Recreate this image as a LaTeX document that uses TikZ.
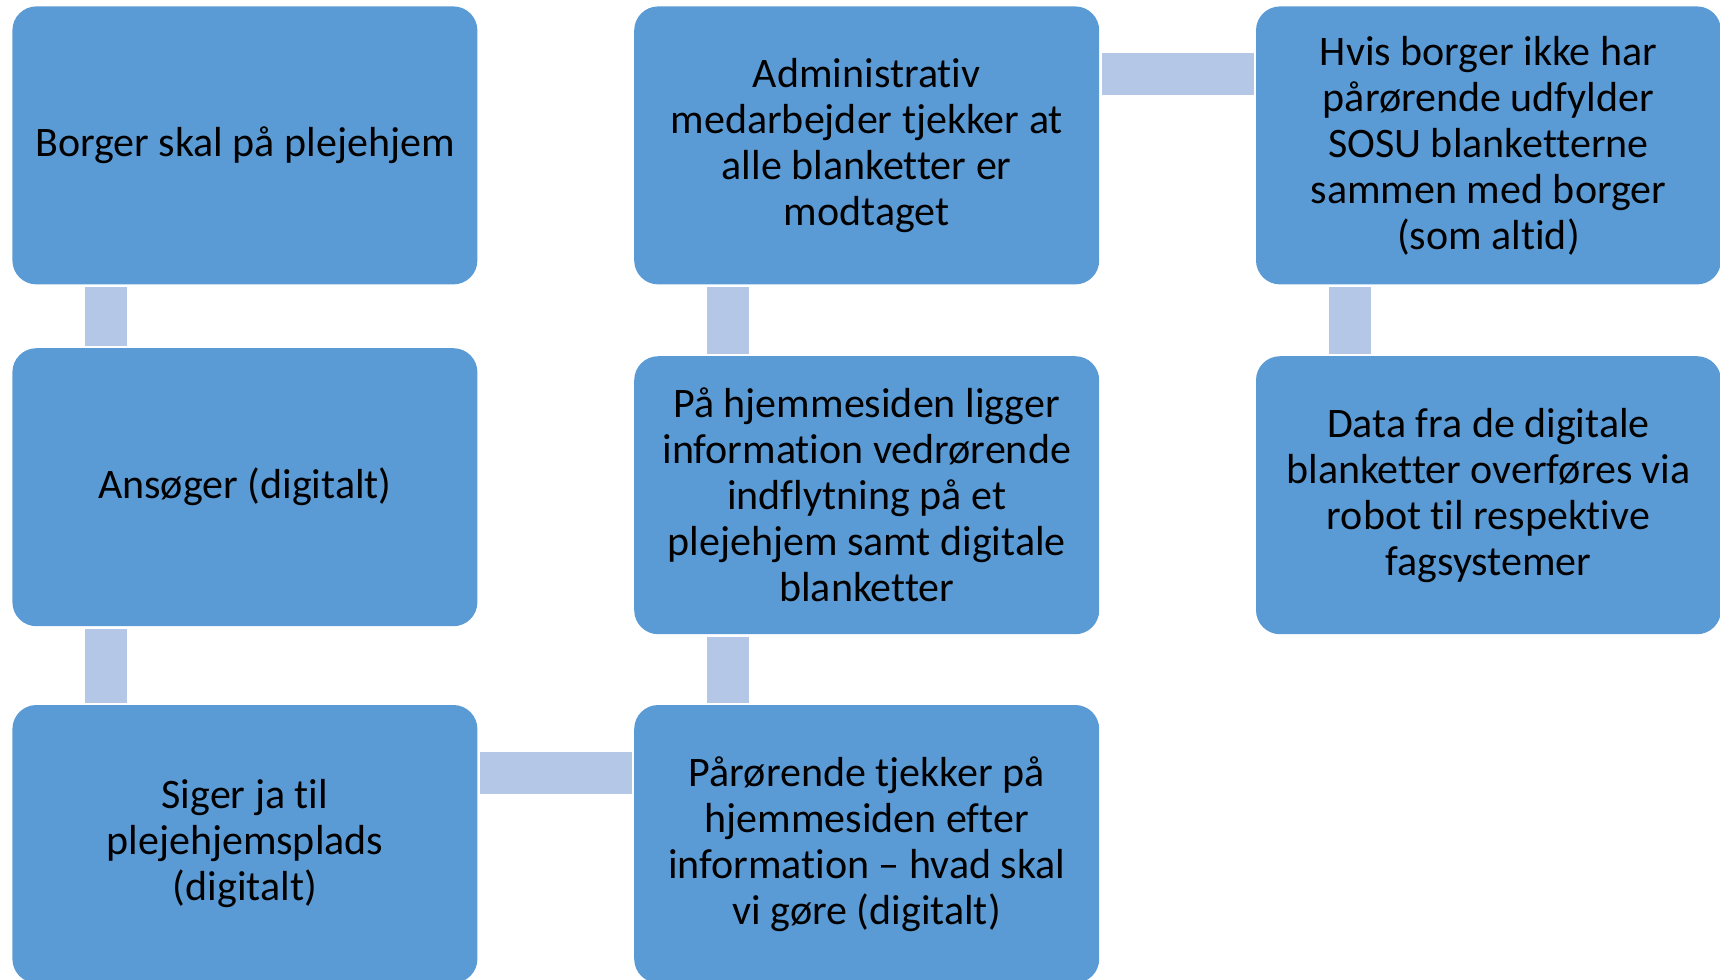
\documentclass[tikz,border=0pt]{standalone}
\usepackage{fontspec}
\setmainfont[Ligatures=NoCommon]{Carlito}
\usepackage{xcolor}
\usepackage{tikz}
\usetikzlibrary{positioning}

\definecolor{boxblue}{HTML}{5B9BD5}
\definecolor{linkblue}{HTML}{B4C7E7}

\begin{document}
\begin{tikzpicture}[
    node distance=35pt and 78pt,
    box/.style={rectangle, rounded corners=12pt, fill=boxblue, minimum width=232.5pt, minimum height=139pt, inner sep=4pt, align=center, font=\fontsize{21}{23}\selectfont},
    link/.style={draw=linkblue, line width=21pt, shorten <=1pt, shorten >=1pt}
]
\useasboundingbox (0,0) rectangle (860pt,-490pt);

\node[box, anchor=north west] (borger) at (6pt,-3pt) {Borger skal på plejehjem};
\node[box, below=31.5pt of borger] (ansoeger) {Ansøger (digitalt)};
\node[box, below=39pt of ansoeger] (siger) {Siger ja til\\plejehjemsplads\\(digitalt)};

\node[box, right=of borger] (admin) {Administrativ\\medarbejder tjekker at\\alle blanketter er\\modtaget};
\node[box, below=35.5pt of admin] (hjemmeside) {På hjemmesiden ligger\\information vedrørende\\indflytning på et\\plejehjem samt digitale\\blanketter};
\node[box, below=of hjemmeside] (paaroerende) {Pårørende tjekker på\\hjemmesiden efter\\information – hvad skal\\vi gøre (digitalt)};

\node[box, right=of admin] (hvis) {Hvis borger ikke har\\pårørende udfylder\\SOSU blanketterne\\sammen med borger\\(som altid)};
\node[box, below=35.5pt of hvis] (data) {Data fra de digitale\\blanketter overføres via\\robot til respektive\\fagsystemer};

\draw[link] ([xshift=47pt]borger.south west) -- ([xshift=47pt]ansoeger.north west);
\draw[link] ([xshift=47pt]ansoeger.south west) -- ([xshift=47pt]siger.north west);
\draw[link] ([yshift=-34pt]siger.north east) -- ([yshift=-34pt]paaroerende.north west);
\draw[link] ([xshift=47pt]paaroerende.north west) -- ([xshift=47pt]hjemmeside.south west);
\draw[link] ([xshift=47pt]hjemmeside.north west) -- ([xshift=47pt]admin.south west);
\draw[link] ([yshift=-34pt]admin.north east) -- ([yshift=-34pt]hvis.north west);
\draw[link] ([xshift=47pt]hvis.south west) -- ([xshift=47pt]data.north west);

\end{tikzpicture}
\end{document}
